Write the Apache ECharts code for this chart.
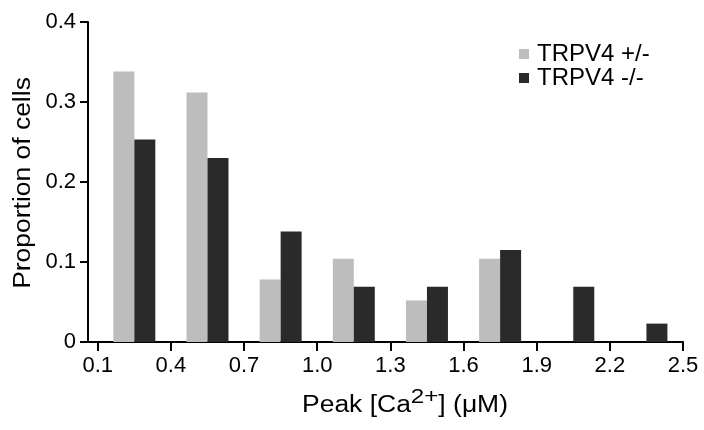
<!DOCTYPE html>
<html>
<head>
<meta charset="utf-8">
<script src="https://cdn.jsdelivr.net/npm/echarts@6/dist/echarts.min.js"></script>
<style>
    html, body { margin: 0; padding: 0; background: #fff; }
    #chart { width: 704px; height: 430px; }
</style>
</head>
<body>
<div id="chart"></div>
<script>
// bin centres of the histogram (uM)
const binCenters = [0.25, 0.55, 0.85, 1.15, 1.45, 1.75, 2.05, 2.35];
const hetValues = [0.338, 0.312, 0.078, 0.104, 0.052, 0.104, 0, 0];
const koValues = [0.253, 0.230, 0.138, 0.069, 0.069, 0.115, 0.069, 0.023];
const xTicks = [0.1, 0.4, 0.7, 1.0, 1.3, 1.6, 1.9, 2.2, 2.5];
const seriesNames = ['TRPV4 +/-', 'TRPV4 -/-'];

const font = '"Liberation Sans", Arial, Helvetica, sans-serif';

function pairs(values) {
    return binCenters.map(function (x, i) { return [x, values[i]]; });
}

let chart = echarts.init(document.getElementById('chart'));
let option = {
    animation: false,
    color: ['#bdbdbd', '#2a2a2a'],
    textStyle: { fontFamily: font },
    grid: {
        left: 88,
        right: 21,
        top: 22,
        bottom: 88,
        containLabel: false
    },
    legend: {
        left: 514,
        top: 37,
        orient: 'vertical',
        itemWidth: 10,
        itemHeight: 10,
        itemGap: 0,
        icon: 'rect',
        textStyle: {
            fontSize: 24,
            color: '#000',
            padding: [0, 0, 0, 3]
        },
        data: seriesNames
    },
    xAxis: {
        type: 'value',
        min: 0.06,
        max: 2.5,
        splitLine: { show: false },
        axisLine: {
            lineStyle: { color: '#000', width: 2 }
        },
        axisTick: {
            length: 9,
            customValues: xTicks,
            lineStyle: { color: '#000', width: 2 }
        },
        axisLabel: {
            customValues: xTicks,
            fontSize: 22,
            color: '#000',
            margin: 13,
            formatter: function (v) { return v.toFixed(1); }
        }
    },
    yAxis: {
        type: 'value',
        min: 0,
        max: 0.4,
        interval: 0.1,
        splitLine: { show: false },
        axisLine: {
            show: true,
            lineStyle: { color: '#000', width: 2 }
        },
        axisTick: {
            show: true,
            length: 8,
            lineStyle: { color: '#000', width: 2 }
        },
        axisLabel: {
            fontSize: 22,
            color: '#000',
            margin: 12,
            formatter: function (v) { return v === 0 ? '0' : v.toFixed(1); }
        }
    },
    graphic: [{
        type: 'text',
        x: 405,
        y: 402,
        scaleX: 1.15,
        style: {
            text: '{a|Peak [Ca}{s|2+}{a|] (μM)}',
            textAlign: 'center',
            textVerticalAlign: 'middle',
            fill: '#000',
            rich: {
                a: { fontSize: 23, fontFamily: font, lineHeight: 30, verticalAlign: 'bottom', color: '#000' },
                s: { fontSize: 21, fontFamily: font, lineHeight: 14, verticalAlign: 'top', color: '#000' }
            }
        }
    }, {
        type: 'text',
        x: 24,
        y: 183,
        rotation: Math.PI / 2,
        scaleX: 1.15,
        style: {
            text: 'Proportion of cells',
            font: '23px ' + font,
            textAlign: 'center',
            textVerticalAlign: 'middle',
            fill: '#000'
        }
    }],
    series: [{
        name: seriesNames[0],
        type: 'bar',
        barWidth: 21,
        barGap: '0%',
        data: pairs(hetValues)
    }, {
        name: seriesNames[1],
        type: 'bar',
        barWidth: 21,
        barGap: '0%',
        data: pairs(koValues)
    }]
};
chart.setOption(option);
</script>
</body>
</html>
